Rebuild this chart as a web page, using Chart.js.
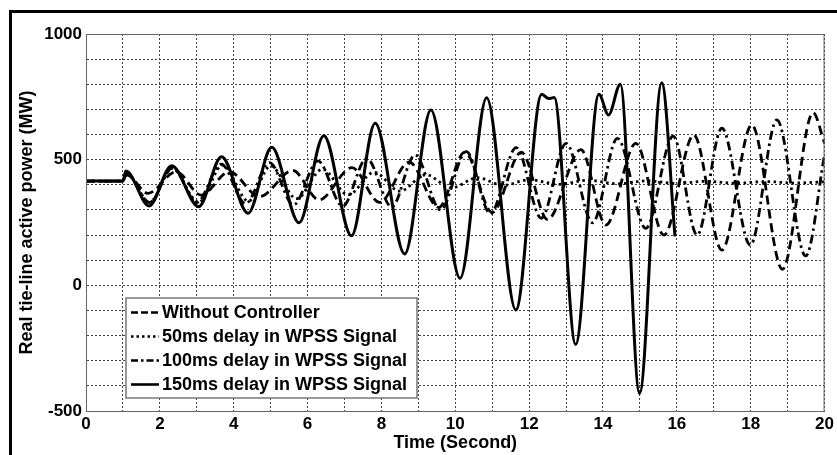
<!DOCTYPE html>
<html>
<head>
<meta charset="utf-8">
<title>Tie-line power</title>
<script src="https://cdn.jsdelivr.net/npm/chart.js@4.4.1/dist/chart.umd.min.js"></script>
<style>
  html, body { margin: 0; padding: 0; background: #fff; }
  #wrap { position: relative; width: 837px; height: 455px; overflow: hidden; }
  #wrap canvas { position: absolute; left: 0; top: 0; }
  #frame {
    position: absolute; left: 9px; top: 10px; width: 840px; height: 460px;
    border-top: 3px solid #000; border-left: 3px solid #000;
  }
</style>
</head>
<body>
<div id="wrap">
  <canvas id="myChart" width="837" height="455"></canvas>
  <div id="frame"></div>
</div>
<script>
// --- data: [time (s), power (MW)] at the turning points of each trace ---
const withoutController = [
  [0, 415], [1.0, 415], [1.1, 440], [1.68, 366], [2.44, 452], [3.12, 359],
  [3.88, 452], [4.7, 353], [5.6, 457], [6.31, 340], [7.2, 468], [7.95, 330],
  [8.75, 490], [9.55, 310], [10.26, 530], [11.0, 290], [11.79, 530],
  [12.5, 262], [13.4, 540], [14.08, 240], [14.89, 565], [15.65, 200],
  [16.46, 598], [17.22, 140], [18.03, 638], [18.86, 64], [19.69, 687], [20, 565]
];
const delay50 = [
  [0, 415], [1.0, 415], [1.08, 450], [1.72, 330], [2.33, 465], [3.05, 330],
  [3.7, 478], [4.4, 335], [5.0, 475], [5.7, 345], [6.4, 462], [7.1, 360],
  [7.8, 450], [8.5, 375], [9.2, 440], [9.9, 388], [10.6, 428], [11.3, 398],
  [12.0, 420], [12.8, 402], [13.6, 418], [14.4, 404], [15.2, 416], [16.0, 405],
  [16.8, 414], [17.6, 406], [18.4, 413], [19.2, 407], [20, 412]
];
const delay100 = [
  [0, 415], [1.0, 415], [1.1, 445], [1.72, 330], [2.35, 468], [3.0, 330],
  [3.66, 482], [4.32, 325], [4.97, 488], [5.62, 320], [6.28, 495], [6.95, 315],
  [7.6, 505], [8.28, 312], [8.91, 519], [9.6, 300], [10.3, 532], [10.95, 285],
  [11.65, 548], [12.33, 267], [13.0, 565], [13.72, 249], [14.39, 585],
  [15.16, 227], [15.9, 594], [16.55, 200], [17.22, 625], [17.99, 160],
  [18.71, 658], [19.49, 117], [20, 520]
];
const delay150 = [
  [0, 415], [1.0, 415], [1.08, 455], [1.71, 316], [2.32, 476], [3.05, 313],
  [3.67, 512], [4.39, 287], [5.03, 549], [5.77, 249], [6.44, 595], [7.19, 197],
  [7.83, 645], [8.63, 125], [9.34, 698], [10.13, 28], [10.85, 746],
  [11.64, -98], [12.34, 760], [12.53, 743], [12.68, 747], [13.26, -235],
  [13.89, 760], [14.15, 678], [14.47, 800], [14.99, -430], [15.59, 806],
  [15.95, 195]
];

const seriesNames = [
  'Without Controller',
  '50ms delay in WPSS Signal',
  '100ms delay in WPSS Signal',
  '150ms delay in WPSS Signal'
];
const xTicks = [0, 2, 4, 6, 8, 10, 12, 14, 16, 18, 20];
const yTicks = [-500, 0, 500, 1000];

const toPoints = arr => arr.map(([x, y]) => ({ x, y }));

const lineStyles = [
  { dash: [9, 5], legendDash: [7, 3] },
  { dash: [2.5, 3.5], legendDash: [2.5, 3] },
  { dash: [9, 4, 2.5, 4], legendDash: [7, 3, 2.5, 3] },
  { dash: [], legendDash: [] }
];

const tickFont = { family: '"Liberation Sans", Arial, sans-serif', size: 17, weight: 'bold' };

// legend box, axis titles and plot frame drawn on top of the chart
const overlay = {
  id: 'overlay',
  afterDraw(chart) {
    const { ctx, chartArea: a } = chart;
    ctx.save();

    // plot frame
    ctx.strokeStyle = '#666';
    ctx.lineWidth = 1;
    ctx.strokeRect(a.left + 0.5, a.top + 0.5, a.right - a.left - 1, a.bottom - a.top);

    // axis titles
    ctx.fillStyle = '#000';
    ctx.font = 'bold 18px "Liberation Sans", Arial, sans-serif';
    ctx.textAlign = 'center';
    ctx.textBaseline = 'middle';
    ctx.fillText('Time (Second)', (a.left + a.right) / 2, 443);
    ctx.save();
    ctx.translate(27, (a.top + a.bottom) / 2);
    ctx.rotate(-Math.PI / 2);
    ctx.fillText('Real tie-line active power (MW)', 0, 0);
    ctx.restore();

    // legend
    const bx = 126, by = 298, bw = 291, bh = 100;
    ctx.fillStyle = '#fff';
    ctx.fillRect(bx, by, bw, bh);
    ctx.strokeStyle = '#777';
    ctx.lineWidth = 1.5;
    ctx.strokeRect(bx, by, bw, bh);
    ctx.textAlign = 'left';
    ctx.font = 'bold 18px "Liberation Sans", Arial, sans-serif';
    seriesNames.forEach((name, i) => {
      const y = 312.5 + i * 24;
      ctx.strokeStyle = '#000';
      ctx.lineWidth = 2.6;
      ctx.setLineDash(lineStyles[i].legendDash);
      ctx.beginPath();
      ctx.moveTo(131, y);
      ctx.lineTo(159, y);
      ctx.stroke();
      ctx.setLineDash([]);
      ctx.fillStyle = '#000';
      ctx.fillText(name, 162, y + 1);
    });
    ctx.restore();
  }
};

const datasets = [withoutController, delay50, delay100, delay150].map((arr, i) => ({
  label: seriesNames[i],
  data: toPoints(arr),
  borderColor: '#000',
  borderWidth: i === 3 ? 3 : 2.8,
  borderDash: lineStyles[i].dash,
  pointRadius: 0,
  cubicInterpolationMode: 'monotone',
  fill: false,
  order: i === 3 ? 0 : 4 - i
}));

const ctx = document.getElementById('myChart').getContext('2d');
new Chart(ctx, {
  type: 'line',
  data: { datasets },
  options: {
    responsive: false,
    animation: false,
    events: [],
    layout: { padding: { top: 34, right: 9, left: 0, bottom: 0 } },
    plugins: { legend: { display: false }, tooltip: { enabled: false } },
    scales: {
      x: {
        type: 'linear',
        min: 0,
        max: 20,
        afterFit: s => { s.height = 44; },
        ticks: {
          stepSize: 1,
          autoSkip: false,
          maxRotation: 0,
          padding: 3,
          color: '#000',
          font: tickFont,
          callback: v => (xTicks.includes(v) ? String(v) : '')
        },
        grid: { color: '#444', lineWidth: 1, drawTicks: false },
        border: { display: true, color: '#555', width: 1, dash: [2, 2] }
      },
      y: {
        type: 'linear',
        min: -500,
        max: 1000,
        afterFit: s => { s.width = 86; },
        ticks: {
          stepSize: 100,
          autoSkip: false,
          padding: 4,
          color: '#000',
          font: tickFont,
          callback: v => (yTicks.includes(v) ? String(v) : '')
        },
        grid: { color: '#444', lineWidth: 1, drawTicks: false },
        border: { display: true, color: '#555', width: 1, dash: [2, 2] }
      }
    }
  },
  plugins: [overlay]
});
</script>
</body>
</html>
